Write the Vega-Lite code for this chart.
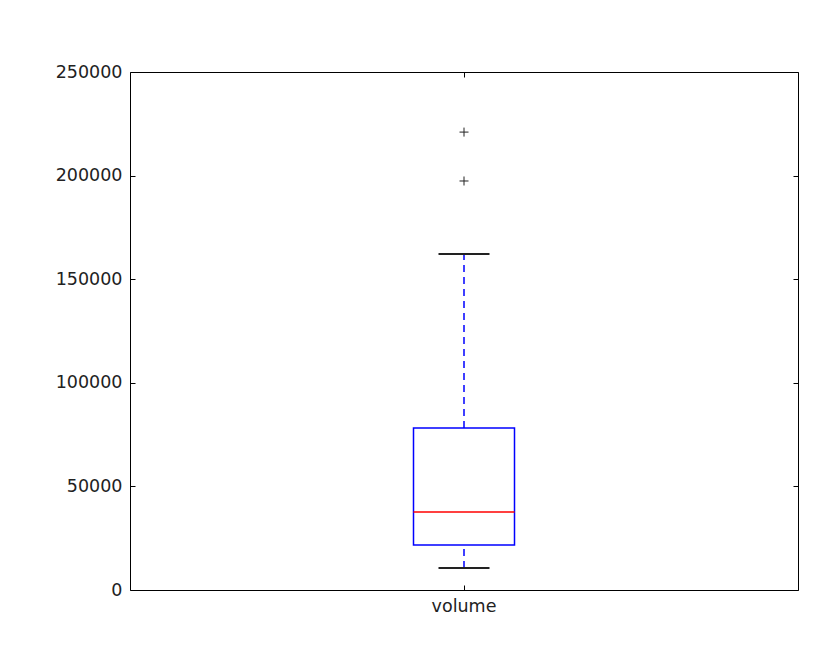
{
  "$schema": "https://vega.github.io/schema/vega-lite/v6.json",
  "width": 668,
  "height": 518,
  "autosize": {"type": "none"},
  "padding": {"left": 130, "top": 72, "right": 38, "bottom": 74},
  "background": "white",
  "config": {
    "view": {"stroke": "black", "strokeWidth": 1},
    "axis": {
      "domain": false,
      "grid": false,
      "ticks": true,
      "tickColor": "black",
      "tickWidth": 1,
      "tickSize": -5,
      "labelFont": "DejaVu Sans",
      "labelFontSize": 17.5,
      "labelColor": "#222222",
      "title": null
    }
  },
  "datasets": {
    "stats": [
      {"variable": "volume", "min": 10600, "q1": 21700, "median": 37700, "q3": 78200, "max": 162200}
    ],
    "outliers": [
      {"variable": "volume", "value": 197400},
      {"variable": "volume", "value": 221000}
    ]
  },
  "resolve": {"axis": {"x": "independent", "y": "independent"}},
  "layer": [
    {
      "data": {"name": "stats"},
      "mark": {"type": "bar", "fill": "transparent", "stroke": "#0000ff", "strokeWidth": 1.5, "size": 101},
      "encoding": {
        "x": {"field": "variable", "type": "nominal", "scale": {"domain": ["volume"], "paddingInner": 0, "paddingOuter": 0},
              "axis": {"orient": "bottom", "labelAngle": 0, "labelPadding": 12}},
        "y": {"field": "q1", "type": "quantitative", "scale": {"domain": [0, 250000], "nice": false},
              "axis": {"orient": "left", "values": [0, 50000, 100000, 150000, 200000, 250000], "format": "d", "labelPadding": 13}},
        "y2": {"field": "q3"}
      }
    },
    {
      "data": {"name": "outliers"},
      "mark": {"type": "point", "shape": "M-1,0L1,0M0,-1L0,1", "filled": false, "stroke": "#222222", "strokeWidth": 1, "size": 81, "opacity": 1},
      "encoding": {
        "x": {"field": "variable", "type": "nominal", "axis": {"orient": "top", "labels": false}},
        "y": {"field": "value", "type": "quantitative",
              "axis": {"orient": "right", "labels": false, "values": [0, 50000, 100000, 150000, 200000, 250000]}}
      }
    },
    {
      "data": {"name": "stats"},
      "mark": {"type": "rule", "stroke": "#0000ff", "strokeWidth": 1.5, "strokeDash": [7, 5]},
      "encoding": {
        "x": {"field": "variable", "type": "nominal", "axis": null},
        "y": {"field": "q3", "type": "quantitative", "axis": null},
        "y2": {"field": "max"}
      }
    },
    {
      "data": {"name": "stats"},
      "mark": {"type": "rule", "stroke": "#0000ff", "strokeWidth": 1.5, "strokeDash": [7, 5]},
      "encoding": {
        "x": {"field": "variable", "type": "nominal", "axis": null},
        "y": {"field": "min", "type": "quantitative", "axis": null},
        "y2": {"field": "q1"}
      }
    },
    {
      "data": {"name": "stats"},
      "mark": {"type": "tick", "color": "#222222", "thickness": 2, "size": 51, "orient": "horizontal", "opacity": 1},
      "encoding": {
        "x": {"field": "variable", "type": "nominal", "axis": null},
        "y": {"field": "max", "type": "quantitative", "axis": null}
      }
    },
    {
      "data": {"name": "stats"},
      "mark": {"type": "tick", "color": "#222222", "thickness": 2, "size": 51, "orient": "horizontal", "opacity": 1},
      "encoding": {
        "x": {"field": "variable", "type": "nominal", "axis": null},
        "y": {"field": "min", "type": "quantitative", "axis": null}
      }
    },
    {
      "data": {"name": "stats"},
      "mark": {"type": "tick", "color": "#ff0000", "thickness": 1.5, "size": 101, "orient": "horizontal", "opacity": 1},
      "encoding": {
        "x": {"field": "variable", "type": "nominal", "axis": null},
        "y": {"field": "median", "type": "quantitative", "axis": null}
      }
    }
  ]
}
